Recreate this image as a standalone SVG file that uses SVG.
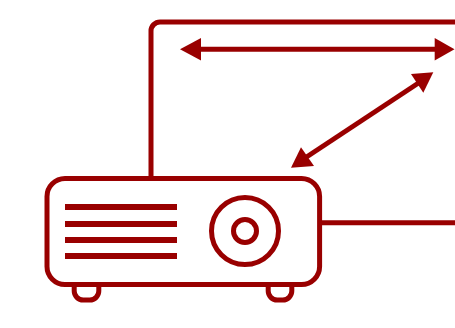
<svg xmlns="http://www.w3.org/2000/svg" width="455" height="328" viewBox="0 0 455 328">
<style>
.s{fill:none;stroke:#990000;stroke-width:5}
.b{fill:#fff;stroke:#990000;stroke-width:5}
.h{fill:#990000;stroke:none}
</style>
<rect width="455" height="328" fill="#fff"/>
<g id="connectors">
<path class="s" d="M151 179V31a9 9 0 0 1 9-9H455"/>
<path class="s" d="M322 222.7H455"/>
<path class="s" d="M198 49.3H438"/>
<polygon class="h" points="180,49.3 201,38 201,60.6"/>
<polygon class="h" points="454.5,49.3 434.7,38 434.7,60.6"/>
<path class="s" d="M305 158L420 82"/>
<polygon class="h" points="433.3,72.3 411,74 423.3,92.7"/>
<polygon class="h" points="291,167.7 301,147.3 314,166"/>
</g>
<g id="projector">
<path class="s" d="M74.2 285v6a9 9 0 0 0 9 9h6.600a9 9 0 0 0 9-9v-6"/>
<path class="s" d="M268.200 285v6a9 9 0 0 0 9 9h5.600a9 9 0 0 0 9-9v-6"/>
<rect class="b" x="47" y="178.500" width="272.600" height="106" rx="18"/>
<rect class="h" x="65" y="204" width="112" height="6"/>
<rect class="h" x="65" y="221" width="112" height="6"/>
<rect class="h" x="65" y="237" width="112" height="6"/>
<rect class="h" x="65" y="253" width="112" height="6"/>
<circle class="s" cx="245" cy="231" r="33.500"/>
<circle class="s" cx="245" cy="231" r="11.500"/>
</g>
</svg>
